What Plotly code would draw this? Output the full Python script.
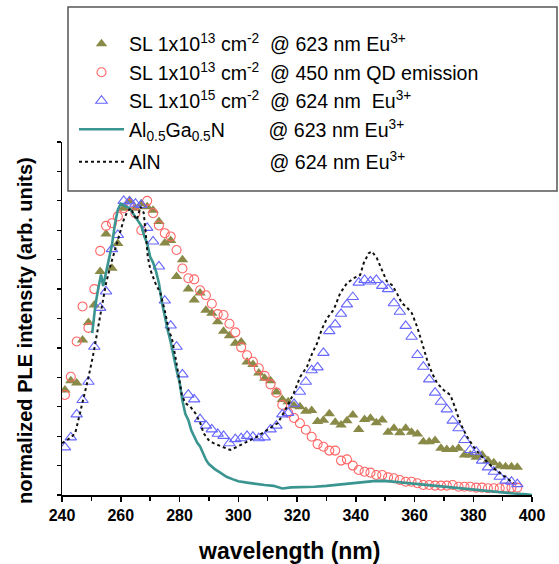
import plotly.graph_objects as go

# ---------------- data ----------------
wl_sl = [241, 243, 245, 247, 249, 251, 253, 255, 257, 259, 261, 263, 265, 267, 269, 271, 273, 275, 277, 279,
         281, 283, 285, 287, 289, 291, 293, 295, 297, 299, 301, 303, 305, 307, 309, 311, 313, 315, 317, 319,
         321, 323, 325, 327, 329, 331, 333, 335, 337, 339, 341, 343, 345, 347, 349, 351, 353, 355, 357, 359,
         361, 363, 365, 367, 369, 371, 373, 375, 377, 379, 381, 383, 385, 387, 389, 391, 393, 395]

sl13_eu = [0.357, 0.388, 0.381, 0.527, 0.586, 0.646, 0.760, 0.887, 0.771, 0.855, 0.975, 1.000, 0.975, 0.990, 0.980,
           0.968, 0.930, 0.857, 0.865, 0.743, 0.800, 0.700, 0.663, 0.687, 0.628, 0.618, 0.589, 0.557, 0.541, 0.516,
           0.520, 0.452, 0.444, 0.415, 0.397, 0.388, 0.350, 0.325, 0.317, 0.303, 0.300, 0.285, 0.287, 0.250, 0.254,
           0.276, 0.247, 0.238, 0.252, 0.272, 0.223, 0.257, 0.261, 0.246, 0.255, 0.213, 0.227, 0.212, 0.227, 0.213,
           0.207, 0.181, 0.181, 0.185, 0.159, 0.155, 0.155, 0.159, 0.136, 0.136, 0.128, 0.136, 0.117, 0.110, 0.099,
           0.096, 0.096, 0.094]

sl13_qd = [0.340, 0.402, 0.522, 0.641, 0.568, 0.700, 0.830, 0.915, 0.924, 0.947, 0.975, 0.990, 0.958, 0.900, 1.000,
           0.958, 0.916, 0.890, 0.879, 0.833, 0.770, 0.737, 0.733, 0.696, 0.679, 0.650, 0.615, 0.612, 0.582, 0.553,
           0.502, 0.475, 0.453, 0.431, 0.405, 0.376, 0.348, 0.306, 0.280, 0.262, 0.244, 0.222, 0.198, 0.173, 0.164,
           0.151, 0.151, 0.117, 0.121, 0.100, 0.085, 0.079, 0.076, 0.068, 0.068, 0.060, 0.057, 0.051, 0.045, 0.045,
           0.040, 0.034, 0.034, 0.032, 0.032, 0.032, 0.034, 0.028, 0.028, 0.028, 0.025, 0.025, 0.023, 0.023, 0.023,
           0.025, 0.025, 0.025]

sl15_eu = [0.162, 0.196, 0.274, 0.323, 0.385, 0.504, 0.636, 0.692, 0.836, 0.884, 1.000, 0.998, 0.990, 0.986, 0.908,
           0.862, 0.777, 0.661, 0.576, 0.504, 0.410, 0.341, 0.325, 0.258, 0.236, 0.223, 0.208, 0.201, 0.176, 0.190,
           0.193, 0.201, 0.198, 0.193, 0.196, 0.223, 0.236, 0.274, 0.279, 0.310, 0.351, 0.385, 0.424, 0.434, 0.483,
           0.557, 0.580, 0.616, 0.648, 0.673, 0.722, 0.731, 0.726, 0.731, 0.711, 0.700, 0.652, 0.623, 0.575, 0.538,
           0.476, 0.436, 0.393, 0.348, 0.317, 0.291, 0.253, 0.227, 0.187, 0.153, 0.147, 0.117, 0.094, 0.079, 0.062,
           0.049, 0.045, 0.037]

wl_algan = [250.3, 251.3, 252.3, 253.3, 254.0, 255.0, 256.0, 257.0, 258.0, 259.0, 260.0, 261.0, 262.0, 263.0,
            264.0, 265.0, 266.0, 267.0, 268.0, 269.0, 270.0, 271.0, 272.0, 273.0, 274.0, 275.0, 276.0, 277.0,
            278.0, 279.0, 280.0, 281.0, 282.0, 283.0, 284.0, 285.0, 286.0, 287.0, 288.0, 289.0, 290.0, 292.0,
            294.0, 296.0, 298.0, 300.0, 303.0, 306.0, 309.0, 312.0, 315.0, 318.0, 322.0, 326.0, 330.0, 334.0,
            338.0, 342.0, 346.0, 350.0, 354.0, 358.0, 362.0, 366.0, 370.0, 374.0, 378.0, 382.0, 386.0, 390.0,
            394.0, 398.0, 400.0]
algan = [0.550, 0.640, 0.700, 0.750, 0.710, 0.760, 0.810, 0.850, 0.920, 0.970, 0.990, 0.985, 0.980, 0.975,
         0.960, 0.945, 0.930, 0.915, 0.880, 0.855, 0.810, 0.790, 0.760, 0.720, 0.655, 0.605, 0.560, 0.520,
         0.470, 0.425, 0.385, 0.320, 0.275, 0.255, 0.220, 0.200, 0.178, 0.165, 0.140, 0.120, 0.105, 0.088,
         0.075, 0.062, 0.054, 0.047, 0.042, 0.037, 0.034, 0.031, 0.022, 0.026, 0.026, 0.028, 0.031, 0.035,
         0.039, 0.043, 0.047, 0.048, 0.044, 0.040, 0.037, 0.033, 0.029, 0.024, 0.019, 0.015, 0.012, 0.008,
         0.005, 0.002, 0.000]

wl_aln = [240.0, 241.5, 243.0, 244.5, 246.0, 247.5, 249.0, 250.5, 252.0, 253.5, 255.0, 256.5, 258.0, 259.5,
          261.0, 262.3, 263.5, 264.5, 265.5, 266.7, 267.8, 268.5, 269.2, 270.1, 271.8, 273.5, 275.2, 276.3,
          277.4, 278.6, 279.7, 280.8, 282.0, 283.7, 285.4, 287.1, 288.2, 289.9, 291.6, 294.5, 297.3, 299.6,
          303.0, 306.4, 309.8, 312.0, 313.5, 316.6, 318.9, 321.1, 323.4, 325.1, 326.8, 328.5, 330.2, 332.5,
          334.7, 337.0, 339.3, 341.5, 342.7, 344.4, 345.5, 347.2, 348.9, 350.6, 352.3, 354.0, 355.7, 357.4,
          359.1, 360.9, 362.6, 364.3, 366.0, 367.7, 369.9, 372.2, 373.9, 375.6, 377.9, 380.1, 382.4, 384.7,
          386.9, 389.2, 391.5, 393.7]
aln = [0.176, 0.187, 0.195, 0.210, 0.270, 0.340, 0.400, 0.470, 0.550, 0.640, 0.720, 0.780, 0.830, 0.880,
       0.935, 0.965, 0.975, 0.950, 0.935, 0.980, 0.960, 0.890, 0.810, 0.765, 0.720, 0.686, 0.618, 0.561,
       0.533, 0.470, 0.402, 0.340, 0.312, 0.300, 0.278, 0.244, 0.210, 0.187, 0.176, 0.164, 0.153, 0.164,
       0.181, 0.198, 0.221, 0.235, 0.245, 0.300, 0.346, 0.402, 0.436, 0.480, 0.515, 0.565, 0.600, 0.630,
       0.686, 0.720, 0.737, 0.748, 0.788, 0.822, 0.828, 0.805, 0.765, 0.726, 0.714, 0.686, 0.652, 0.638,
       0.618, 0.572, 0.516, 0.459, 0.414, 0.380, 0.357, 0.340, 0.295, 0.244, 0.198, 0.164, 0.136, 0.113,
       0.091, 0.074, 0.057, 0.040]

x_ticks = [240, 260, 280, 300, 320, 340, 360, 380, 400]

NB = "\u00a0"
names = [
    "SL 1x10<sup>13</sup> cm<sup>-2</sup>" + NB * 2 + "@ 623 nm Eu<sup>3+</sup>",
    "SL 1x10<sup>13</sup> cm<sup>-2</sup>" + NB * 2 + "@ 450 nm QD emission",
    "SL 1x10<sup>15</sup> cm<sup>-2</sup>" + NB * 2 + "@ 624 nm" + NB * 2 + "Eu<sup>3+</sup>",
    "Al<sub>0.5</sub>Ga<sub>0.5</sub>N" + NB * 8 + "@ 623 nm Eu<sup>3+</sup>",
    "AlN" + NB * 20 + "@ 624 nm Eu<sup>3+</sup>",
]

FONT = "Arial, Liberation Sans, sans-serif"

# ---------------- figure ----------------
fig = go.Figure()
fig.add_trace(go.Scatter(x=wl_sl, y=sl13_eu, mode="markers", name=names[0], legendgroup="a",
                         marker=dict(symbol="triangle-up", size=10, color="#8a8a48",
                                     line=dict(width=0))))
fig.add_trace(go.Scatter(x=wl_sl, y=sl13_qd, mode="markers", name=names[1], legendgroup="a",
                         marker=dict(symbol="circle-open", size=9, color="#ff6666",
                                     line=dict(width=1.1, color="#ff6666"))))
fig.add_trace(go.Scatter(x=wl_sl, y=sl15_eu, mode="markers", name=names[2], legendgroup="a",
                         marker=dict(symbol="triangle-up-open", size=10, color="#6666ff",
                                     line=dict(width=1.1, color="#6666ff"))))
fig.add_trace(go.Scatter(x=wl_algan, y=algan, mode="lines", name=names[3], legendgroup="a",
                         line=dict(color="#3a9490", width=2.6)))
fig.add_trace(go.Scatter(x=wl_aln, y=aln, mode="lines", name=names[4], legendgroup="b",
                         line=dict(color="#111111", width=2, dash="dot")))

L, R, T, B = 62, 27, 142, 69
W, H = 559, 564
pw, ph = W - L - R, H - T - B

def px_x(p):
    return (p - L) / pw

def px_y(p):
    return (H - B - p) / ph

fig.update_layout(
    width=W, height=H,
    margin=dict(l=L, r=R, t=T, b=B, autoexpand=False),
    paper_bgcolor="white", plot_bgcolor="white",
    font=dict(family=FONT, color="black"),
    showlegend=True,
    legend=dict(x=px_x(74), y=px_y(24.5), xanchor="left", yanchor="top",
                bgcolor="rgba(0,0,0,0)", borderwidth=0,
                font=dict(size=19.6, family=FONT, color="black"),
                itemwidth=45, traceorder="grouped", tracegroupgap=4),
    xaxis=dict(range=[240, 400], tickmode="array", tickvals=x_ticks,
               ticktext=[str(v) for v in x_ticks],
               showline=True, linecolor="black", linewidth=1.5, mirror=False,
               ticks="outside", ticklen=5, tickwidth=1.5, tickcolor="black",
               minor=dict(dtick=10, tick0=240, ticks="outside", ticklen=4, tickwidth=1.3, tickcolor="black"),
               tickfont=dict(size=16, family=FONT, color="black", weight="bold"),
               showgrid=False, zeroline=False),
    yaxis=dict(range=[0, 1.2], tick0=0, dtick=0.1, showticklabels=False,
               showline=True, linecolor="black", linewidth=1.5, mirror=False,
               ticks="outside", ticklen=4, tickwidth=1.3, tickcolor="black",
               showgrid=False, zeroline=False),
    shapes=[dict(type="rect", xref="paper", yref="paper",
                 x0=px_x(68), x1=px_x(557), y0=px_y(191), y1=px_y(7),
                 line=dict(color="#555555", width=1.5), fillcolor="rgba(0,0,0,0)", layer="above")],
    annotations=[
        dict(text="<b>wavelength (nm)</b>", xref="paper", yref="paper",
             x=px_x(289), y=px_y(551), xanchor="center", yanchor="middle", showarrow=False,
             font=dict(size=23, family=FONT, color="black")),
        dict(text="<b>normalized PLE intensity (arb. units)</b>", xref="paper", yref="paper",
             x=px_x(25), y=px_y(331), xanchor="center", yanchor="middle", showarrow=False, textangle=-90,
             font=dict(size=20, family=FONT, color="black")),
    ],
)

fig.write_html("out.html", config={"displayModeBar": False, "staticPlot": True},
               post_script="document.body.style.margin='0px';document.body.style.overflow='hidden';")
